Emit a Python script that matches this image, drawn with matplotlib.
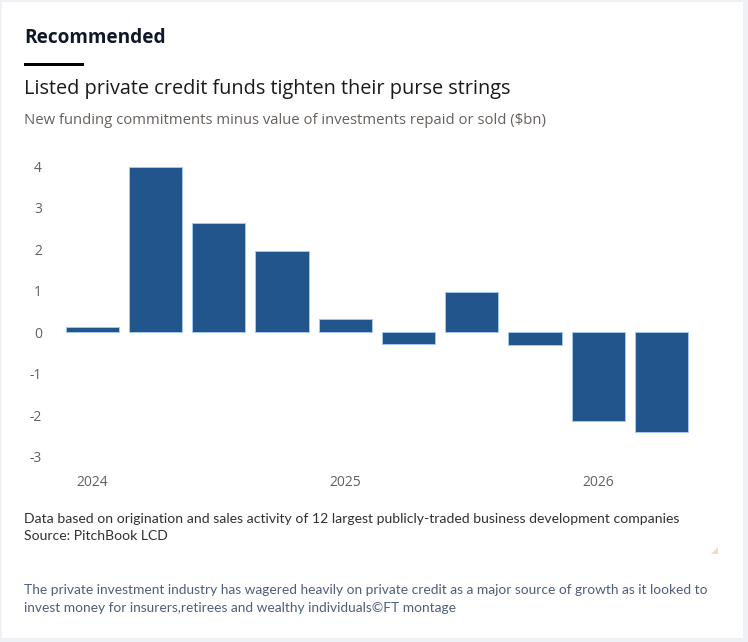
import numpy as np
import matplotlib.pyplot as plt
from matplotlib.patches import Rectangle, Polygon

# quarterly net funding, $bn (Q1 2024 .. Q2 2026)
quarters = ["2024Q1", "2024Q2", "2024Q3", "2024Q4",
            "2025Q1", "2025Q2", "2025Q3", "2025Q4",
            "2026Q1", "2026Q2"]
net_funding = [0.13, 3.98, 2.63, 1.95, 0.31, -0.29, 0.96, -0.32, -2.14, -2.42]
year_ticks = [0, 4, 8]
year_labels = ["2024", "2025", "2026"]
y_ticks = [4, 3, 2, 1, 0, -1, -2, -3]

W, H = 748, 642
fig = plt.figure(figsize=(W / 100, H / 100), dpi=100)
fig.patch.set_facecolor("#eef2f7")

def px(x, y):
    """pixel (from top-left) -> figure coords"""
    return x / W, 1 - y / H

# white card
fig.patches.append(Rectangle((2 / W, 4 / H), 741 / W, 636 / H,
                             transform=fig.transFigure, facecolor="white",
                             edgecolor="none", zorder=-5))

# header
fig.text(*px(24, 38), "Recommended", fontsize=13.7, fontweight="bold",
         color="#0f1729", family="Open Sans", va="center")
fig.patches.append(Rectangle(px(24, 66), 60 / W, 3 / H,
                             transform=fig.transFigure, facecolor="black",
                             edgecolor="none"))
fig.text(*px(24, 89), "Listed private credit funds tighten their purse strings",
         fontsize=14.3, color="#1a1a1a", family="Open Sans", va="center")
fig.text(*px(24, 121),
         "New funding commitments minus value of investments repaid or sold ($bn)",
         fontsize=10.7, color="#66605c", family="Open Sans", va="center")

# chart
left, right, top, bottom = 60, 700, 149.4, 464.8
ax = fig.add_axes([left / W, 1 - bottom / H, (right - left) / W, (bottom - top) / H])
ax.set_zorder(3)
x = np.arange(len(quarters))
ax.bar(x, net_funding, width=0.84, color="#21558c", edgecolor="#a3c8ee",
       linewidth=0.7, zorder=2)

ax.set_xlim(-0.51, 9.61)
ax.set_ylim(-3.2, 4.4)
ax.set_yticks(y_ticks)
ax.set_yticklabels([str(v) for v in y_ticks])
ax.set_xticks(year_ticks)
ax.set_xticklabels(year_labels)
for s in ax.spines.values():
    s.set_visible(False)
ax.tick_params(axis="both", length=0, labelsize=10, labelcolor="#66605c")
ax.tick_params(axis="y", pad=13)
ax.tick_params(axis="x", pad=7)
for lab in ax.get_xticklabels() + ax.get_yticklabels():
    lab.set_family("Open Sans")
ax.set_facecolor("none")

# footnotes
fig.text(*px(24, 519),
         "Data based on origination and sales activity of 12 largest publicly-traded business development companies",
         fontsize=10.05, color="#33302e", family="Lato", va="center")
fig.text(*px(24, 536), "Source: PitchBook LCD",
         fontsize=10.05, color="#33302e", family="Lato", va="center")

# resize handle
fig.patches.append(Polygon([px(718, 547), px(718, 554), px(711, 554)], closed=True,
                           transform=fig.transFigure, facecolor="#ecdccc",
                           edgecolor="none"))

fig.text(*px(24, 590),
         "The private investment industry has wagered heavily on private credit as a major source of growth as it looked to",
         fontsize=9.87, color="#4f5e7b", family="Lato", va="center")
fig.text(*px(24, 608),
         "invest money for insurers,retirees and wealthy individuals\u00a9FT montage",
         fontsize=9.87, color="#4f5e7b", family="Lato", va="center")

fig.savefig("out.png", dpi=100, facecolor=fig.get_facecolor())
